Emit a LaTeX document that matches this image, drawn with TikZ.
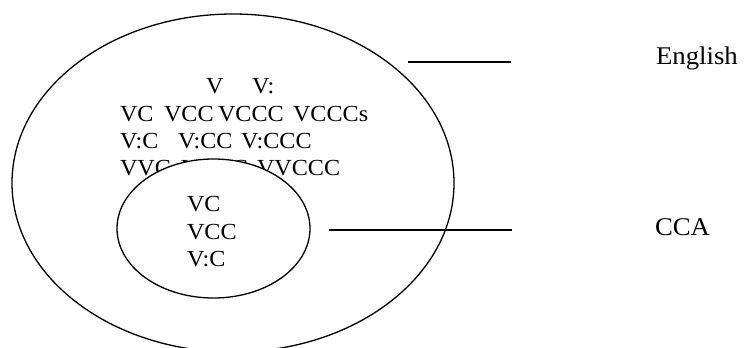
\documentclass[tikz,border=0pt]{standalone}
\usepackage{fontspec}
\setmainfont[FakeStretch=1.05]{Liberation Serif}
\begin{document}
\begin{tikzpicture}[x=1pt,y=-1pt,
  inner/.style={font=\fontsize{23}{23}\selectfont, anchor=base west, inner sep=0pt, outer sep=0pt},
  label/.style={font=\fontsize{25.5}{25.5}\selectfont, anchor=base west, inner sep=0pt, outer sep=0pt},
  ring/.style={draw=black, line width=1.3pt},
  link/.style={draw=black, line width=1.6pt}]
\useasboundingbox (0,0) rectangle (747,348);
\clip (0,0) rectangle (747,348);
% outer ellipse
\draw[ring] (233,183) ellipse [x radius=221pt, y radius=169pt];
% English set syllables
\node[inner] (r1a) at (206,93) {V};
\node[inner] (r1b) at (252,93) {V:};
\node[inner] (r2a) at (120,121.5) {VC};
\node[inner] (r2b) at (164,121.5) {VCC};
\node[inner] (r2c) at (218,121.5) {VCCC};
\node[inner] (r2d) at (293,121.5) {VCCCs};
\node[inner] (r3a) at (120,148.5) {V:C};
\node[inner] (r3b) at (178,148.5) {V:CC};
\node[inner] (r3c) at (241,148.5) {V:CCC};
\node[inner] (r4a) at (120,175.5) {VVC};
\node[inner] (r4b) at (181,175.5) {VVCC};
\node[inner] (r4c) at (257,175.5) {VVCCC};
% inner ellipse (covers text beneath)
\draw[ring, fill=white] (213.5,228.5) ellipse [x radius=96.5pt, y radius=69.5pt];
\node[inner] (c1) at (187,211) {VC};
\node[inner] (c2) at (187,239) {VCC};
\node[inner] (c3) at (187,266) {V:C};
% labels and connectors
\node[label] (eng) at (656,64.3) {English};
\node[label] (cca) at (655,235) {CCA};
\coordinate (e1) at (408,62);
\coordinate (e2) at (511,62);
\coordinate (k1) at (329,230);
\coordinate (k2) at (512,230);
\draw[link] (e1) -- (e2);
\draw[link] (k1) -- (k2);
\end{tikzpicture}
\end{document}
